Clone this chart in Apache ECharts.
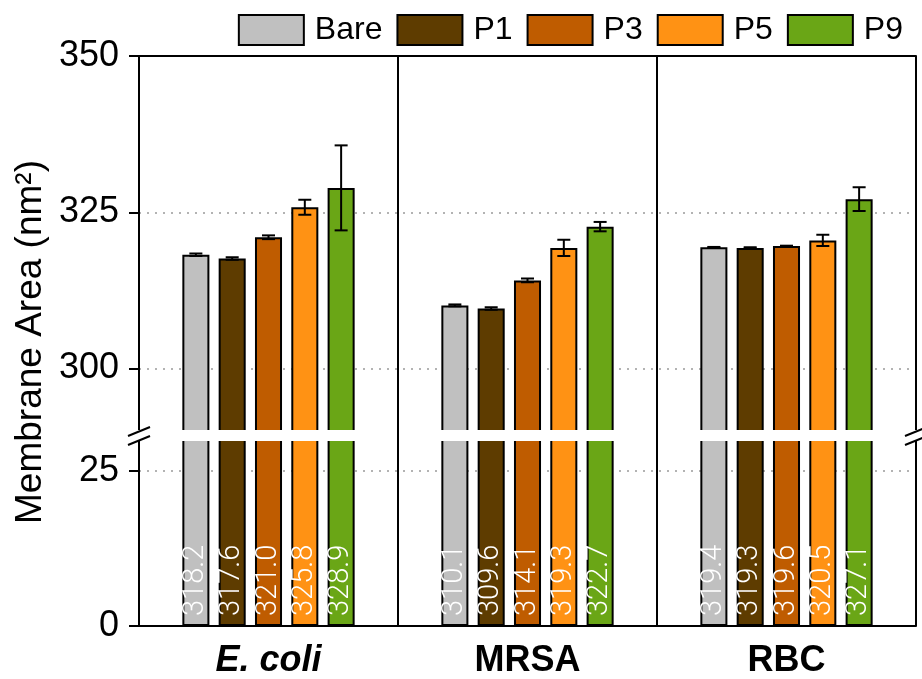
<!DOCTYPE html>
<html>
<head>
<meta charset="utf-8">
<script src="https://cdn.jsdelivr.net/npm/echarts@6/dist/echarts.min.js"></script>
<style>
  html, body { margin: 0; padding: 0; background: #fff; }
  #chart { width: 922px; height: 679px; }
</style>
</head>
<body>
<div id="chart"></div>
<script>
// Membrane area per organism for bare and coated membranes
const groups = ['E. coli', 'MRSA', 'RBC'];
const coatings = ['Bare', 'P1', 'P3', 'P5', 'P9'];

const areaBare = [318.2, 310.1, 319.4];
const areaP1   = [317.6, 309.6, 319.3];
const areaP3   = [321.0, 314.1, 319.6];
const areaP5   = [325.8, 319.3, 320.5];
const areaP9   = [328.9, 322.7, 327.1];

const errBare = [0.2, 0.15, 0.05];
const errP1   = [0.2, 0.2, 0.1];
const errP3   = [0.3, 0.3, 0.05];
const errP5   = [1.2, 1.3, 0.9];
const errP9   = [6.8, 0.75, 1.9];

const upperTicks = [300, 325, 350];
const lowerTicks = [0, 25];

const areas = [areaBare, areaP1, areaP3, areaP5, areaP9];
const errors = [errBare, errP1, errP3, errP5, errP9];
const colors = ['#C0C0C0', '#5E3C00', '#BF5C00', '#FF9214', '#6AA616'];

// layout (px); plot width kept divisible by the group count so panel edges land on whole pixels
const GRID_L = 139, GRID_R = 916;
const UP_TOP = 56, UP_BOT = 431;
const LO_TOP = 440, LO_BOT = 628;
const BAR_FRAC = 0.1044;   // bar width as share of a category band
const GAP_FRAC = 0.343;    // gap between bars as share of bar width

const FONT = '"Liberation Sans", Arial, Helvetica, sans-serif';
const BLACK = '#000';

const chart = echarts.init(document.getElementById('chart'), null, { renderer: 'canvas' });

const dotted = { show: true, showMinLine: true, showMaxLine: true,
  lineStyle: { color: '#9a9a9a', width: 1.6, type: [2, 6] } };

const yCommon = (ticks) => ({
  axisLine: { show: true, lineStyle: { color: BLACK, width: 2 } },
  axisTick: { show: true, length: 10, lineStyle: { color: BLACK, width: 2 }, customValues: ticks },
  axisLabel: { customValues: ticks, color: BLACK, fontSize: 36, fontFamily: FONT, margin: 20 },
  splitLine: dotted
});

const series = [];
coatings.forEach((name, k) => {
  const itemStyle = { color: colors[k], borderColor: BLACK, borderWidth: 2 };
  series.push({
    name, type: 'bar', xAxisIndex: 0, yAxisIndex: 0,
    data: areas[k], barWidth: (BAR_FRAC * 100) + '%', barGap: (GAP_FRAC * 100) + '%',
    itemStyle, z: 2
  });
  series.push({
    name, type: 'bar', xAxisIndex: 1, yAxisIndex: 1,
    data: areas[k], barWidth: (BAR_FRAC * 100) + '%', barGap: (GAP_FRAC * 100) + '%',
    itemStyle, z: 2,
    label: {
      show: true, position: 'insideBottom', rotate: 90, align: 'left', verticalAlign: 'middle',
      distance: 10, color: '#fff', fontSize: 29, fontFamily: 'Roboto, ' + FONT, fontWeight: 300,
      formatter: (p) => p.value.toFixed(1)
    }
  });
});

// error bars: [category index, mean, half-range, coating index]
const errData = [];
coatings.forEach((_, k) => {
  groups.forEach((_, c) => errData.push([c, areas[k][c], errors[k][c], k]));
});

series.push({
  name: 'error', type: 'custom', xAxisIndex: 0, yAxisIndex: 0, z: 5,
  encode: { x: 0, y: 1 },
  data: errData,
  renderItem: (params, api) => {
    const c = api.value(0), v = api.value(1), e = api.value(2), k = api.value(3);
    const band = api.size([1, 0])[0];
    const barW = band * BAR_FRAC;
    const step = barW * (1 + GAP_FRAC);
    const x = api.coord([c, v])[0] + (k - (coatings.length - 1) / 2) * step;
    const yHi = api.coord([c, v + e])[1];
    const yLo = api.coord([c, v - e])[1];
    const cap = 6.5;
    const style = { stroke: BLACK, lineWidth: 2 };
    return {
      type: 'group',
      children: [
        { type: 'line', shape: { x1: x, y1: yHi, x2: x, y2: yLo }, style },
        { type: 'line', shape: { x1: x - cap, y1: yHi, x2: x + cap, y2: yHi }, style },
        { type: 'line', shape: { x1: x - cap, y1: yLo, x2: x + cap, y2: yLo }, style }
      ]
    };
  }
});

// break decorations between the two value ranges
const panelW = (GRID_R - GRID_L) / groups.length;
const gapTop = UP_BOT - 1, gapBot = LO_TOP + 1;
const graphics = [
  { type: 'rect', z: 100, shape: { x: GRID_L - 3, y: gapTop, width: GRID_R - GRID_L + 6, height: gapBot - gapTop },
    style: { fill: '#fff' } }
];
for (let i = 1; i < groups.length; i++) {
  const x = Math.round(GRID_L + i * panelW);
  graphics.push({ type: 'line', z: 101, shape: { x1: x, y1: gapTop - 2, x2: x, y2: gapBot + 2 },
    style: { stroke: BLACK, lineWidth: 2 } });
}
[GRID_L, GRID_R].forEach((x) => {
  [[436, 427], [445, 436]].forEach(([ya, yb]) => {
    graphics.push({ type: 'line', z: 101, shape: { x1: x - 11, y1: ya, x2: x + 11, y2: yb },
      style: { stroke: BLACK, lineWidth: 2 } });
  });
});
graphics.push({
  type: 'text', z: 101, x: 31, y: 342, rotation: Math.PI / 2,
  style: { text: 'Membrane Area (nm²)', font: '37px ' + FONT, fill: BLACK,
    textAlign: 'center', textVerticalAlign: 'middle' }
});

chart.setOption({
  animation: false,
  backgroundColor: '#fff',
  legend: {
    data: coatings, right: 14, top: 9, itemWidth: 65, itemHeight: 30, itemGap: 14, icon: 'rect',
    textStyle: { fontSize: 32, color: BLACK, fontFamily: FONT, padding: [0, 0, 0, 6] }
  },
  grid: [
    { left: GRID_L, right: 922 - GRID_R, top: UP_TOP, height: UP_BOT - UP_TOP },
    { left: GRID_L, right: 922 - GRID_R, top: LO_TOP, height: LO_BOT - LO_TOP }
  ],
  xAxis: [
    { type: 'category', gridIndex: 0, data: groups, position: 'top',
      axisLine: { show: true, lineStyle: { color: BLACK, width: 2 } },
      axisTick: { show: false }, axisLabel: { show: false },
      splitLine: { show: true, lineStyle: { color: BLACK, width: 2 } } },
    { type: 'category', gridIndex: 1, data: groups, position: 'bottom',
      axisLine: { show: true, lineStyle: { color: BLACK, width: 2 } },
      axisTick: { show: false },
      axisLabel: {
        color: BLACK, fontSize: 36, fontWeight: 'bold', fontFamily: FONT, margin: 17,
        formatter: (v) => v === 'E. coli' ? '{i|' + v + '}' : v,
        rich: { i: { fontSize: 36, fontWeight: 'bold', fontStyle: 'italic', fontFamily: FONT, color: BLACK } }
      },
      splitLine: { show: true, lineStyle: { color: BLACK, width: 2 } } }
  ],
  yAxis: [
    Object.assign({ type: 'value', gridIndex: 0, min: 290, max: 350 }, yCommon(upperTicks)),
    Object.assign({ type: 'value', gridIndex: 1, min: 0, max: 30 }, yCommon(lowerTicks))
  ],
  series,
  graphic: graphics
});
</script>
</body>
</html>
